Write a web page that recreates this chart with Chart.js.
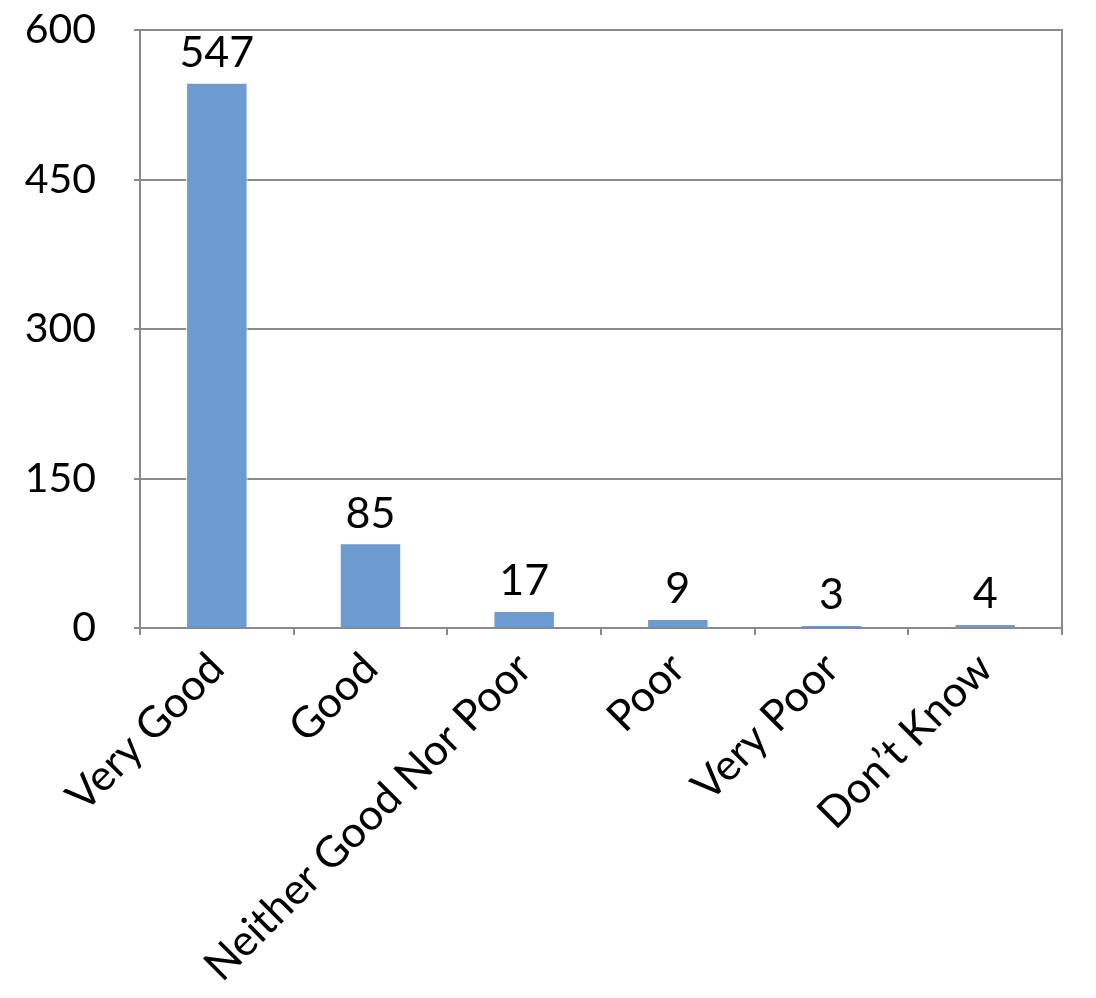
<!DOCTYPE html>
<html>
<head>
<meta charset="utf-8">
<script src="https://cdn.jsdelivr.net/npm/chart.js@4/dist/chart.umd.min.js"></script>
<style>
  html, body { margin: 0; padding: 0; background: #fff; }
  canvas { display: block; }
</style>
</head>
<body>
<canvas id="balken" width="1096" height="998"></canvas>
<script>
// Kategorien und Werte
const kategorien = ["Very Good", "Good", "Neither Good Nor Poor", "Poor", "Very Poor", "Don\u2019t Know"];
const anzahl = [547, 85, 17, 9, 3, 4];
const yTicks = [0, 150, 300, 450, 600];

const schrift = "Lato, 'Open Sans', sans-serif";
const grau = "#8a8a8a";

// Werte ueber die Balken schreiben
const wertePlugin = {
  id: "werte",
  afterDatasetsDraw(chart) {
    const ctx = chart.ctx;
    const meta = chart.getDatasetMeta(0);
    ctx.save();
    ctx.font = "43px " + schrift;
    ctx.fillStyle = "#000";
    ctx.textAlign = "center";
    ctx.textBaseline = "bottom";
    meta.data.forEach(function (bar, i) {
      ctx.fillText(String(anzahl[i]), bar.x, bar.y - 8);
    });
    ctx.restore();
  },
};

const balken = document.querySelector("#balken");

const data = {
  labels: kategorien,
  datasets: [
    {
      label: "Anzahl",
      data: anzahl,
      backgroundColor: "#6b9bd1",
      borderColor: "#ffffff",
      borderWidth: 1,
      barPercentage: 0.4,
      categoryPercentage: 1,
    },
  ],
};

const config = {
  type: "bar",
  data: data,
  plugins: [wertePlugin],
  options: {
    responsive: false,
    animation: false,
    layout: { padding: { top: 30, right: 34, left: 10, bottom: 0 } },
    plugins: {
      legend: { display: false },
      title: { display: false },
      tooltip: { enabled: false },
    },
    scales: {
      x: {
        grid: {
          offset: true,
          drawOnChartArea: false,
          color: grau,
          lineWidth: 2,
          tickLength: 7,
        },
        border: { color: grau, width: 2 },
        ticks: {
          color: "#000",
          font: { family: schrift, size: 43 },
          minRotation: 45,
          maxRotation: 45,
          padding: 8,
        },
        afterFit(axis) {
          axis.paddingLeft = 0;
          axis.paddingRight = 0;
          axis.height = 370;
        },
      },
      y: {
        min: 0,
        max: 600,
        afterBuildTicks(axis) {
          axis.ticks = yTicks.map(function (v) { return { value: v }; });
        },
        grid: { color: grau, lineWidth: 2, tickLength: 6 },
        border: { color: grau, width: 2 },
        ticks: {
          color: "#000",
          font: { family: schrift, size: 41 },
          padding: 38,
        },
        afterFit(axis) {
          axis.width = 130;
          axis.paddingTop = 0;
          axis.paddingBottom = 0;
        },
      },
      y2: {
        position: "right",
        display: true,
        grid: { display: false },
        ticks: { display: false },
        border: { display: true, color: grau, width: 2 },
        afterFit(axis) {
          axis.width = 0;
          axis.paddingTop = 0;
          axis.paddingBottom = 0;
        },
      },
    },
  },
};

const chart = new Chart(balken, config);
</script>
</body>
</html>
